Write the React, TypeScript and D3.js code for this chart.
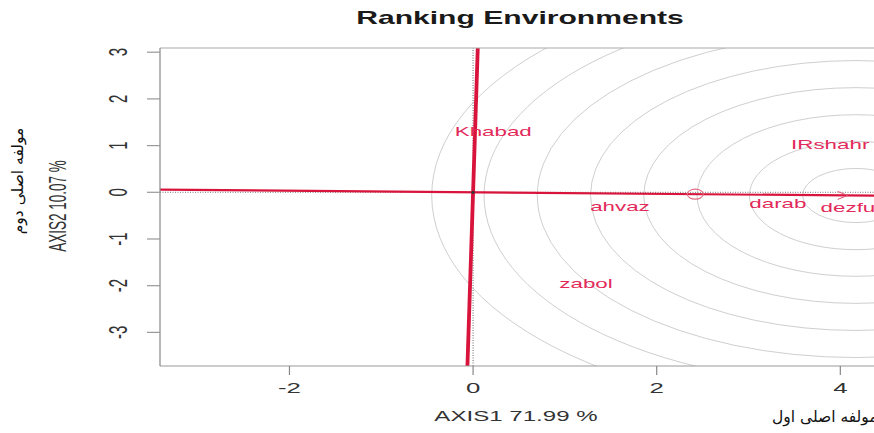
import React from "react";
import * as d3 from "d3";

const W = 874;
const H = 433;
const SX = 1.72; // horizontal stretch of the original picture

// Environment scores (PC1, PC2)
const envNames = ["Khabad", "IRshahr", "ahvaz", "darab", "dezful", "zabol"];
const envX = [0.22, 3.89, 1.6, 3.32, 4.11, 1.23];
const envY = [1.3, 1.03, -0.31, -0.24, -0.33, -1.94];

// Average environment and ideal-environment circles
const avgEnv = [2.42, -0.04];
const idealLen = 4.17;
const circleRadii = [0.58, 1.16, 1.73, 2.31, 2.89, 3.47, 4.05, 4.62];
const arrowLen = 4.08;

const xTicks = [-2, 0, 2, 4];
const yTicks = [-3, -2, -1, 0, 1, 2, 3];

const title = "Ranking Environments";
const xLabel = "AXIS1 71.99 %";
const yLabel = "AXIS2 10.07 %";
const xLabelFa = "مولفه اصلی اول";
const yLabelFa = "مولفه اصلی دوم";

const FONT = "'Liberation Sans', Arial, Helvetica, sans-serif";
const RED = "#d9143c";
const LABEL = "#e2295a";

const plotL = 160, plotT = 48, plotB = 366, plotR = 900;
const x = d3.scaleLinear().domain([-3.41, 4.65]).range([plotL, plotR]);
const y = d3.scaleLinear().domain([-3.72, 3.09]).range([plotB, plotT]);

function SText(props: any) {
  const { px, py, rot, size, children, ...rest } = props;
  return (
    <text
      transform={`translate(${px},${py}) scale(${SX},1)${rot ? ` rotate(${rot})` : ""}`}
      textAnchor="middle"
      dominantBaseline="central"
      fontFamily={FONT}
      fontSize={size}
      {...rest}
    >
      {children}
    </text>
  );
}

export default function App() {
  const m = avgEnv[1] / avgEnv[0];
  const [x0, x1] = x.domain();
  const [y0, y1] = y.domain();
  const cx = idealLen / Math.sqrt(1 + m * m);
  const cy = m * cx;
  const ax = arrowLen / Math.sqrt(1 + m * m);
  const tipX = x(ax), tipY = y(m * ax);

  return (
    <svg width={W} height={H} style={{ position: "absolute", left: 0, top: 0, background: "#fff" }}>
      <defs>
        <clipPath id="plotclip">
          <rect x={plotL} y={plotT} width={plotR - plotL} height={plotB - plotT} />
        </clipPath>
      </defs>

      <SText px={520} py={18} size={17.5} fontWeight="bold" fill="#1a1a1a">{title}</SText>

      <g clipPath="url(#plotclip)">
        {circleRadii.map((r, i) => (
          <ellipse key={i} cx={x(cx)} cy={y(cy)}
            rx={x(r) - x(0)} ry={y(0) - y(r)}
            fill="none" stroke="#cfcfcf" strokeWidth={1} />
        ))}
        {/* dotted reference lines */}
        <line x1={x(x0)} x2={x(x1)} y1={y(0)} y2={y(0)} stroke="#777" strokeWidth={1} strokeDasharray="1,1.5" />
        <line x1={x(0)} x2={x(0)} y1={y(y0)} y2={y(y1)} stroke="#666" strokeWidth={1} strokeDasharray="1,1.5" />
        {/* average environment axis */}
        <line x1={x(x0)} y1={y(m * x0)} x2={x(x1)} y2={y(m * x1)} stroke={RED} strokeWidth={2.2} />
        {/* perpendicular axis */}
        <line x1={x(-m * y0)} y1={y(y0)} x2={x(-m * y1)} y2={y(y1)} stroke={RED} strokeWidth={3.8} />
        {/* arrow head */}
        <path d={`M${tipX - 10},${tipY - 4} L${tipX},${tipY} L${tipX - 10},${tipY + 4}`} fill="none" stroke="#e05070" strokeWidth={1} />
        {/* average environment marker */}
        <ellipse cx={x(avgEnv[0])} cy={y(avgEnv[1])} rx={8} ry={5} fill="none" stroke="#e26a80" strokeWidth={1.1} />
        <circle cx={x(0)} cy={y(0)} r={1.6} fill="#333" />
        {envNames.map((n, i) => (
          <SText key={n} px={x(envX[i])} py={y(envY[i])} size={13} fill={LABEL}>{n}</SText>
        ))}
      </g>

      {/* box */}
      <line x1={plotL} x2={W} y1={plotT} y2={plotT} stroke="#aaa" strokeWidth={1.2} />
      <line x1={plotL} x2={W} y1={plotB} y2={plotB} stroke="#999" strokeWidth={1.2} />
      <line x1={plotL} x2={plotL} y1={plotT} y2={plotB} stroke="#888" strokeWidth={1.2} />

      {/* y axis */}
      {yTicks.map((t) => (
        <g key={t}>
          <line x1={plotL - 13} x2={plotL} y1={y(t)} y2={y(t)} stroke="#999" strokeWidth={1.2} />
          <SText px={118} py={y(t)} rot={-90} size={15} fill="#333">{String(t)}</SText>
        </g>
      ))}
      {/* x axis */}
      {xTicks.map((t) => (
        <g key={t}>
          <line x1={x(t)} x2={x(t)} y1={plotB} y2={plotB + 9} stroke="#888" strokeWidth={1.2} />
          <SText px={x(t)} py={388} size={15} fill="#333">{String(t)}</SText>
        </g>
      ))}

      <SText px={516} py={416} size={14} fill="#333">{xLabel}</SText>
      <SText px={58} py={206} rot={-90} size={13.5} fill="#333">{yLabel}</SText>

      <text x={772} y={422} fontFamily="'DejaVu Sans', serif" fontSize={15.5} fill="#111">{xLabelFa}</text>
      <text transform={`translate(23,181) rotate(-90)`} textAnchor="middle"
        fontFamily="'DejaVu Sans', serif" fontSize={15.5} fill="#111">{yLabelFa}</text>
    </svg>
  );
}
